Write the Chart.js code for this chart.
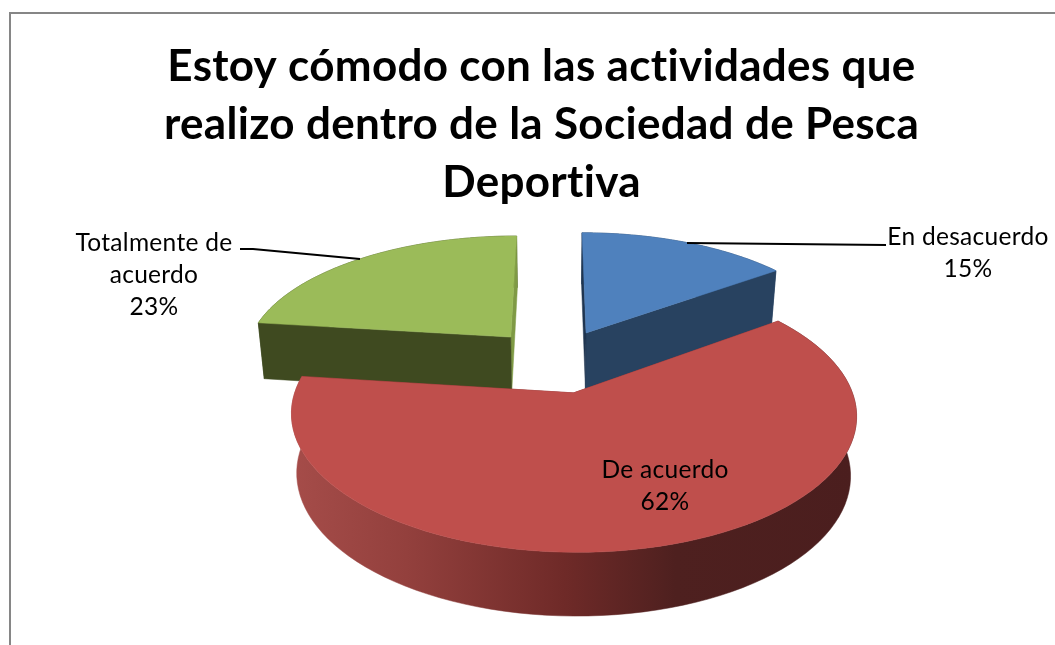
<!DOCTYPE html>
<html>
<head>
<meta charset="utf-8">
<style>
  html, body { margin: 0; padding: 0; background: #fff; overflow: hidden; }
  #wrap { width: 1055px; height: 645px; position: relative; }
</style>
<script src="https://cdn.jsdelivr.net/npm/chart.js@4"></script>
</head>
<body>
<div id="wrap"><canvas id="pie"></canvas></div>
<script>
const titleLines = [
  "Estoy cómodo con las actividades que",
  "realizo dentro de la Sociedad de Pesca",
  "Deportiva",
];
const categories = ["En desacuerdo", "De acuerdo", "Totalmente de acuerdo"];
const values = [15, 62, 23];
const topColors = ["#4f81bd", "#bf4f4c", "#9bbb59"];
const wallColors = ["#284260", "#7a2e2c", "#3f4a20"];
const startFaceColors = ["#1f3550", "#7a2e2c", "#3f4a20"];
const endFaceColors = ["#284260", "#7a2e2c", "#7f9a45"];

// label placement: centre x, first line y, text lines, optional leader line
const labelLayout = [
  { x: 968, y: 237, lines: ["En desacuerdo"], leader: [[886, 245], [687, 243]] },
  { x: 665, y: 470, lines: ["De acuerdo"] },
  { x: 154, y: 243, lines: ["Totalmente de", "acuerdo"], leader: [[240, 249], [253, 249], [360, 259]] },
];

// perspective of the tilted pie, fitted to the picture
const view = { cx: 555.5, cy: 360.5, kx: 268, ky: 123.5, q: 0.155, depth: 57.5, depthSlope: 5, shrink: 0.98, explode: 0.26 };
const drawOrder = [2, 0, 1];

function project(X, Y) {
  const w = 1 - view.q * Y;
  return { x: view.cx + view.kx * X / w, y: view.cy + view.ky * Y / w, Y };
}
function lower(p) {
  return { x: view.cx + (p.x - view.cx) * view.shrink, y: p.y + view.depth + view.depthSlope * p.Y };
}
function poly(ctx, pts, fill) {
  ctx.beginPath();
  pts.forEach((p, i) => (i ? ctx.lineTo(p.x, p.y) : ctx.moveTo(p.x, p.y)));
  ctx.closePath();
  ctx.fillStyle = fill;
  ctx.fill();
  ctx.strokeStyle = fill;
  ctx.lineWidth = 0.5;
  ctx.stroke();
}

const pie3d = {
  id: "pie3d",
  beforeDraw(chart) {
    const ctx = chart.ctx;
    // a small spacing also switches off the Lato "ti" ligature
    ctx.letterSpacing = "0.3px";
    ctx.save();
    ctx.strokeStyle = "#868686";
    ctx.lineWidth = 2;
    ctx.strokeRect(10, 13, 1200, 800);
    ctx.restore();
  },
  beforeDatasetDraw(chart) {
    const ctx = chart.ctx;
    const arcs = chart.getDatasetMeta(0).data;
    ctx.save();
    drawOrder.forEach((i) => {
      const arc = arcs[i];
      const mid = (arc.startAngle + arc.endAngle) / 2;
      const ox = Math.cos(mid) * view.explode;
      const oy = Math.sin(mid) * view.explode;
      const rim = [];
      const steps = 90;
      for (let s = 0; s <= steps; s++) {
        const a = arc.startAngle + (arc.endAngle - arc.startAngle) * s / steps;
        rim.push(project(ox + Math.cos(a), oy + Math.sin(a)));
      }
      const apex = project(ox, oy);
      const first = rim[0];
      const last = rim[rim.length - 1];

      // outer wall
      let wall = wallColors[i];
      if (i === 1) {
        wall = ctx.createLinearGradient(295, 0, 855, 0);
        wall.addColorStop(0, "#a54c49");
        wall.addColorStop(0.2, "#93403d");
        wall.addColorStop(0.48, "#6f2a28");
        wall.addColorStop(0.68, "#4e201f");
        wall.addColorStop(1, "#4b1e1e");
      }
      poly(ctx, rim.concat(rim.map(lower).reverse()), wall);
      // cut faces
      poly(ctx, [apex, last, lower(last), lower(apex)], endFaceColors[i]);
      poly(ctx, [apex, first, lower(first), lower(apex)], startFaceColors[i]);
      // top face
      poly(ctx, [apex].concat(rim), topColors[i]);
    });
    ctx.restore();
    return false;
  },
  afterDraw(chart) {
    const ctx = chart.ctx;
    const total = values.reduce((a, b) => a + b, 0);
    ctx.save();
    ctx.fillStyle = "#000";
    ctx.textAlign = "center";
    ctx.textBaseline = "middle";
    ctx.font = "24.5px Lato";
    labelLayout.forEach((l, i) => {
      const lines = l.lines.concat(Math.round(values[i] / total * 100) + "%");
      lines.forEach((t, n) => ctx.fillText(t, l.x, l.y + n * 32));
      if (l.leader) {
        ctx.beginPath();
        l.leader.forEach((p, n) => (n ? ctx.lineTo(p[0], p[1]) : ctx.moveTo(p[0], p[1])));
        ctx.strokeStyle = "#000";
        ctx.lineWidth = 2;
        ctx.stroke();
      }
    });
    ctx.restore();
  },
};

new Chart(document.getElementById("pie"), {
  type: "pie",
  data: {
    labels: categories,
    datasets: [{ data: values, backgroundColor: topColors, borderWidth: 0 }],
  },
  options: {
    responsive: true,
    maintainAspectRatio: false,
    animation: false,
    events: [],
    layout: { padding: { left: 28, top: 38 } },
    plugins: {
      legend: { display: false },
      tooltip: { enabled: false },
      title: {
        display: true,
        text: titleLines,
        color: "#000",
        font: { family: "Lato", size: 44, weight: "bold", lineHeight: 1.32 },
        padding: 0,
      },
    },
  },
  plugins: [pie3d],
});
</script>
</body>
</html>
